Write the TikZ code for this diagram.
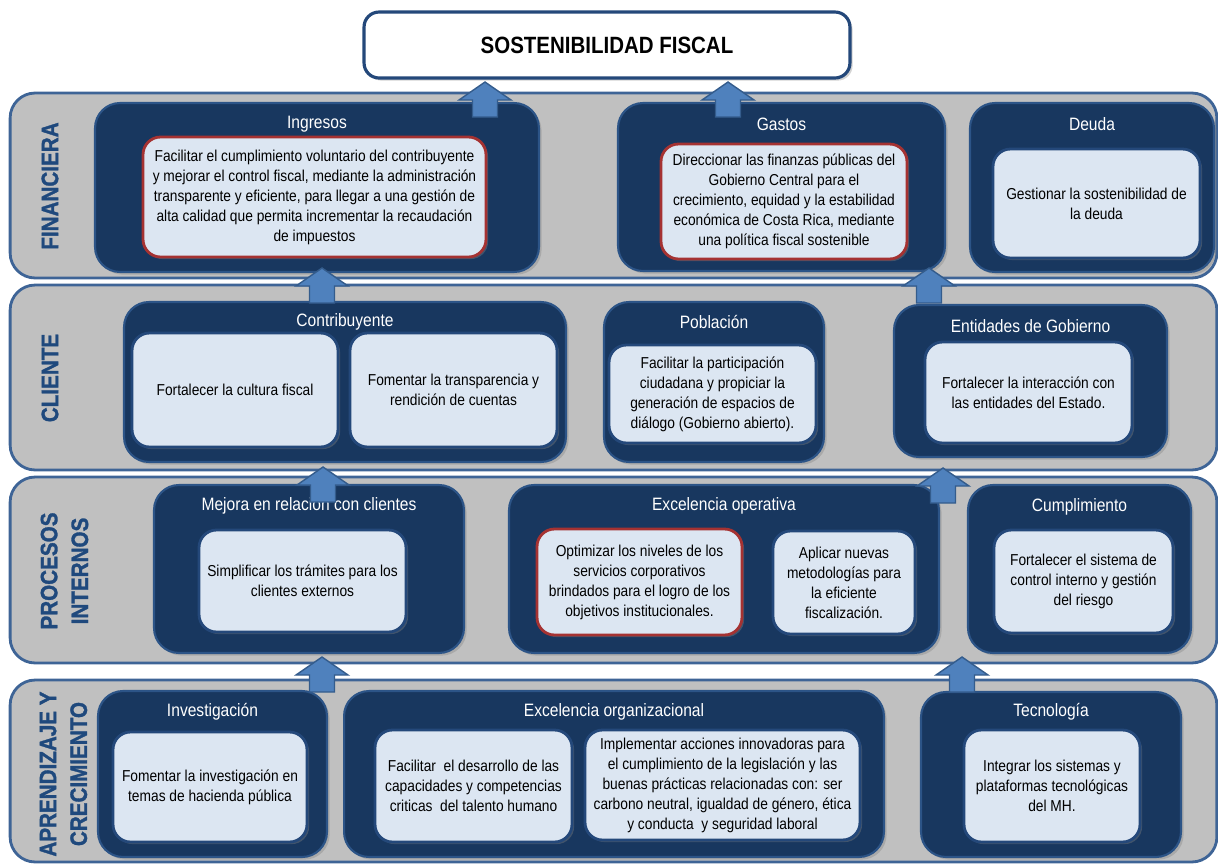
\documentclass[tikz,border=0pt]{standalone}
\usepackage{fontspec}
\setmainfont{Liberation Sans}[FakeStretch=0.87]
\newfontfamily\persfont{Liberation Sans Bold}[FakeStretch=0.87, FakeBold=1.3]
\usetikzlibrary{shadows}

\definecolor{bandgray}{RGB}{192,192,192}
\definecolor{bandedge}{RGB}{62,100,150}
\definecolor{navy}{RGB}{24,55,95}
\definecolor{navyedge}{RGB}{44,84,135}
\definecolor{pale}{RGB}{220,230,242}
\definecolor{goaledge}{RGB}{36,72,122}
\definecolor{keyred}{RGB}{165,50,50}
\definecolor{arrowblue}{RGB}{79,129,189}
\definecolor{arrowedge}{RGB}{52,92,140}
\definecolor{persblue}{RGB}{31,73,125}

\tikzset{
  bandbox/.style={draw=bandedge, fill=bandgray, line width=1.6pt, rounded corners=0.5cm},
  groupbox/.style={draw=navyedge, fill=navy, line width=1.2pt, rounded corners=0.5cm,
    drop shadow={shadow xshift=1.5pt, shadow yshift=-1.5pt, opacity=0.35}},
  goalbox/.style={draw=goaledge, fill=pale, line width=1.6pt, rounded corners=0.35cm,
    align=center, inner sep=2pt, font=\fontsize{9}{11.4}\selectfont,
    drop shadow={shadow xshift=1.2pt, shadow yshift=-1.2pt, opacity=0.4}},
  keygoal/.style={goalbox, draw=keyred},
  grouptitle/.style={text=white, font=\fontsize{10.2}{12}\selectfont},
  persp/.style={rotate=90, text=persblue, align=center, font=\persfont\fontsize{13.5}{17.5}\selectfont},
  topbox/.style={draw=goaledge, fill=white, line width=1.8pt, rounded corners=0.3cm,
    font=\fontsize{13.4}{16}\selectfont\bfseries,
    drop shadow={shadow xshift=1.5pt, shadow yshift=-1.5pt, opacity=0.35}},
  uparrow/.pic={
    \draw[fill=arrowblue, draw=arrowedge, line width=0.8pt]
      (-12.5,0) -- (-12.5,-17) -- (-26,-17) -- (0,-35) -- (26,-17) -- (12.5,-17) -- (12.5,0) -- cycle;
  }
}

\begin{document}
\begin{tikzpicture}[x=0.02cm, y=-0.02cm]
  \useasboundingbox (0,0) rectangle (1218,863);

  % perspectives
  \node[bandbox, minimum width=24.14cm, minimum height=3.7cm] (fin) at (613.5,185.5) {};
  \node[bandbox, minimum width=24.14cm, minimum height=3.7cm] (cli) at (613.5,377.5) {};
  \node[bandbox, minimum width=24.14cm, minimum height=3.72cm] (pro) at (613.5,570) {};
  \node[bandbox, minimum width=24.14cm, minimum height=3.64cm] (apr) at (613.5,771) {};

  \node[persp] (finlabel) at (50,186) {FINANCIERA};
  \node[persp] (clilabel) at (50,378) {CLIENTE};
  \node[persp] (prolabel) at (64.5,571) {PROCESOS\\INTERNOS};
  \node[persp] (aprlabel) at (63.5,774) {APRENDIZAJE Y\\CRECIMIENTO};

  \node[topbox, minimum width=9.72cm, minimum height=1.32cm] (top) at (607,45) {SOSTENIBILIDAD FISCAL};

  % financiera
  \node[groupbox, minimum width=8.88cm, minimum height=3.38cm] (ingresos) at (317,187.5) {};
  \node[groupbox, minimum width=6.54cm, minimum height=3.36cm] (gastos) at (781.5,187) {};
  \node[groupbox, minimum width=4.88cm, minimum height=3.38cm] (deuda) at (1092,187.5) {};
  \node[grouptitle] at ([yshift=-0.44cm]ingresos.north) {Ingresos};
  \node[grouptitle] at ([yshift=-0.44cm]gastos.north) {Gastos};
  \node[grouptitle] at ([yshift=-0.44cm]deuda.north) {Deuda};
  \node[keygoal, minimum width=6.86cm, minimum height=2.4cm] (ing1) at (314.5,197)
    {Facilitar el cumplimiento voluntario del contribuyente\\ y mejorar el control fiscal, mediante la administración\\ transparente y eficiente, para llegar a una gestión de\\ alta calidad que permita incrementar la recaudación\\ de impuestos};
  \node[keygoal, minimum width=4.92cm, minimum height=2.3cm] (gas1) at (784,201.5)
    {Direccionar las finanzas públicas del\\ Gobierno Central para el\\ crecimiento, equidad y la estabilidad\\ económica de Costa Rica, mediante\\ una política fiscal sostenible};
  \node[goalbox, minimum width=4.14cm, minimum height=2.18cm] (deu1) at (1096.5,203.5)
    {Gestionar la sostenibilidad de\\ la deuda};

  % cliente
  \node[groupbox, minimum width=8.84cm, minimum height=3.2cm] (contrib) at (345,382) {};
  \node[groupbox, minimum width=4.4cm, minimum height=3.2cm] (poblacion) at (714,382) {};
  \node[groupbox, minimum width=5.46cm, minimum height=3.04cm] (entidades) at (1030.5,381) {};
  \node[grouptitle] at ([yshift=-0.42cm]contrib.north) {Contribuyente};
  \node[grouptitle] at ([yshift=-0.42cm]poblacion.north) {Población};
  \node[grouptitle] at ([yshift=-0.44cm]entidades.north) {Entidades de Gobierno};
  \node[goalbox, minimum width=4.12cm, minimum height=2.28cm] (con1) at (235,390)
    {Fortalecer la cultura fiscal};
  \node[goalbox, minimum width=4.14cm, minimum height=2.28cm] (con2) at (453.5,390)
    {Fomentar la transparencia y\\ rendición de cuentas};
  \node[goalbox, minimum width=4.14cm, minimum height=1.96cm] (pob1) at (712.5,394)
    {Facilitar la participación\\ ciudadana y propiciar la\\ generación de espacios de\\ diálogo (Gobierno abierto).};
  \node[goalbox, minimum width=4.14cm, minimum height=2.02cm] (ent1) at (1028.5,392.5)
    {Fortalecer la interacción con\\ las entidades del Estado.};

  % procesos internos
  \node[groupbox, minimum width=6.2cm, minimum height=3.36cm] (mejora) at (309,569) {};
  \node[groupbox, minimum width=8.6cm, minimum height=3.36cm] (operativa) at (724,569) {};
  \node[groupbox, minimum width=4.46cm, minimum height=3.36cm] (cumpl) at (1079.5,569) {};
  \node[grouptitle] at ([yshift=-0.44cm]mejora.north) {Mejora en relacion con clientes};
  \node[grouptitle] at ([yshift=-0.44cm]operativa.north) {Excelencia operativa};
  \node[grouptitle] at ([yshift=-0.46cm]cumpl.north) {Cumplimiento};
  \node[goalbox, minimum width=4.14cm, minimum height=2.04cm] (mej1) at (302.5,581)
    {Simplificar los trámites para los\\ clientes externos};
  \node[keygoal, minimum width=4.1cm, minimum height=2.12cm] (op1) at (639.5,582)
    {Optimizar los niveles de los\\ servicios corporativos\\ brindados para el logro de los\\ objetivos institucionales.};
  \node[goalbox, minimum width=2.84cm, minimum height=2.06cm] (op2) at (844,582.5)
    {Aplicar nuevas\\ metodologías para\\ la eficiente\\ fiscalización.};
  \node[goalbox, minimum width=3.58cm, minimum height=2.06cm] (cum1) at (1083.5,581.5)
    {Fortalecer el sistema de\\ control interno y gestión\\ del riesgo};

  % aprendizaje y crecimiento
  \node[groupbox, minimum width=4.58cm, minimum height=3.32cm] (investig) at (212.5,774) {};
  \node[groupbox, minimum width=10.8cm, minimum height=3.32cm] (organiz) at (614,774) {};
  \node[groupbox, minimum width=5.2cm, minimum height=3.3cm] (tecno) at (1051,774.5) {};
  \node[grouptitle] at ([yshift=-0.44cm]investig.north) {Investigación};
  \node[grouptitle] at ([yshift=-0.44cm]organiz.north) {Excelencia organizacional};
  \node[grouptitle] at ([yshift=-0.42cm]tecno.north) {Tecnología};
  \node[goalbox, minimum width=3.88cm, minimum height=2.2cm] (inv1) at (210,787)
    {Fomentar la investigación en\\ temas de hacienda pública};
  \node[goalbox, minimum width=3.94cm, minimum height=2.24cm] (org1) at (473.5,786)
    {Facilitar\ \ el desarrollo de las\\ capacidades y competencias\\ criticas\ \ del talento humano};
  \node[goalbox, minimum width=5.5cm, minimum height=2.2cm] (org2) at (722.5,785)
    {Implementar acciones innovadoras para\\ el cumplimiento de la legislación y las\\ buenas prácticas relacionadas con: ser\\ carbono neutral, igualdad de género, ética\\ y conducta\ \ y seguridad laboral};
  \node[goalbox, minimum width=3.52cm, minimum height=2.24cm] (tec1) at (1052,786)
    {Integrar los sistemas y\\ plataformas tecnológicas\\ del MH.};

  % arrows up
  \pic at (485,117) {uparrow};
  \pic at (728,117) {uparrow};
  \pic at (322,303) {uparrow};
  \pic at (929,303) {uparrow};
  \pic at (323,502) {uparrow};
  \pic at (943,503) {uparrow};
  \pic at (322,692) {uparrow};
  \pic at (962,692) {uparrow};
\end{tikzpicture}
\end{document}
